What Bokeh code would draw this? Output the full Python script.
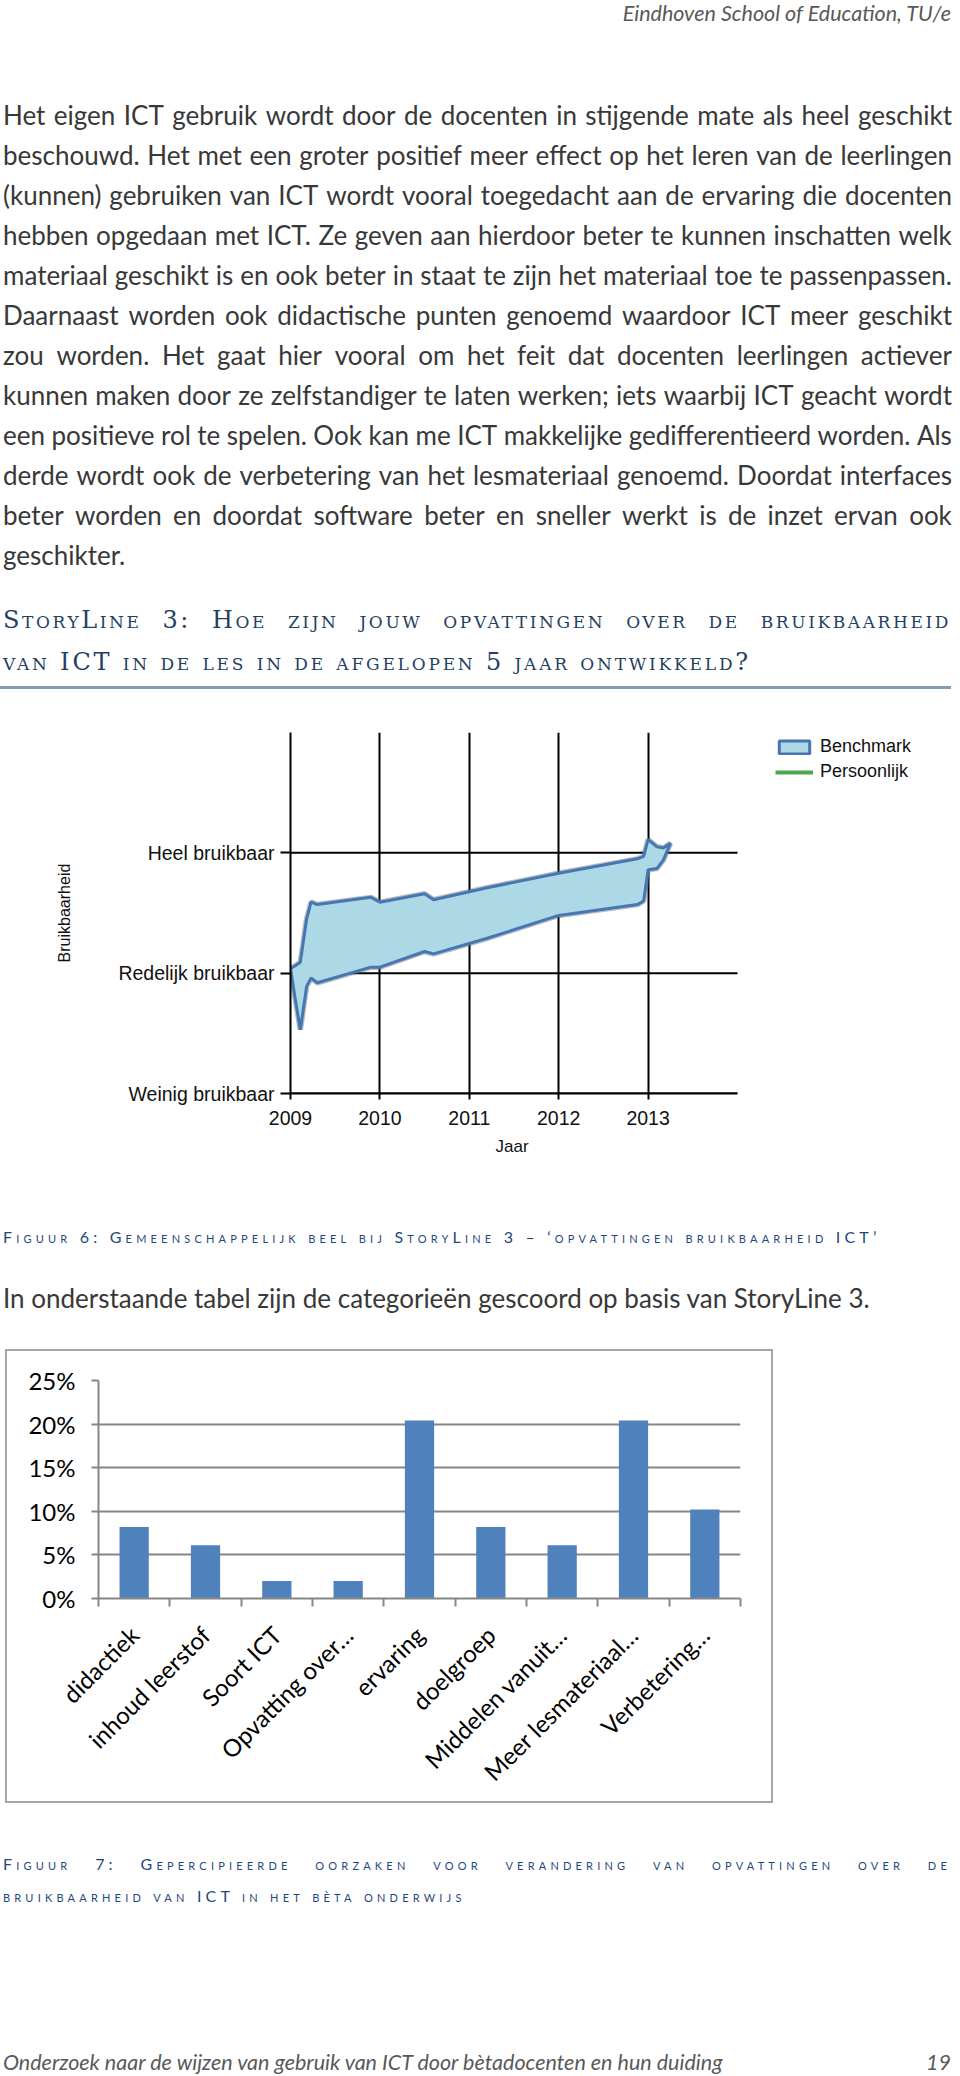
from math import pi
from bokeh.plotting import figure
from bokeh.models import Div, FixedTicker, Legend, LegendItem, Title
from bokeh.embed import file_html
from bokeh.resources import INLINE

# ---------------- data: StoryLine 3 (Benchmark band) ----------------
jaar = [2009.00, 2009.05, 2009.11, 2009.18, 2009.23, 2009.30, 2009.90, 2010.00,
        2010.50, 2010.60, 2011.20, 2012.00, 2012.88, 2012.95, 2013.00, 2013.10,
        2013.17, 2013.25]
boven = [2.04, 2.06, 2.09, 2.45, 2.59, 2.57, 2.63, 2.59,
         2.66, 2.61, 2.71, 2.83, 2.95, 2.97, 3.11, 3.05,
         3.04, 3.08]
onder = [2.04, 1.80, 1.53, 1.89, 1.96, 1.92, 2.05, 2.05,
         2.18, 2.16, 2.29, 2.48, 2.57, 2.60, 2.86, 2.87,
         2.94, 3.08]
# the personal line is not visible in the picture: no values
persoonlijk_jaar = [2009]
persoonlijk_waarde = [float("nan")]
jaren = [2009, 2010, 2011, 2012, 2013]
as_jaren = (2009, 2014)
niveaus = [1, 2, 3]
niveau_labels = ["Weinig bruikbaar", "Redelijk bruikbaar", "Heel bruikbaar"]

# ---------------- data: Figuur 7 (bar chart) ----------------
categorieen = ["didactiek", "inhoud leerstof", "Soort ICT", "Opvatting over…",
               "ervaring", "doelgroep", "Middelen vanuit…", "Meer lesmateriaal…",
               "Verbetering…"]
percentages = [8.2, 6.1, 2.0, 2.0, 20.4, 8.2, 6.1, 20.4, 10.2]
pct_ticks = [0, 5, 10, 15, 20, 25]
pct_labels = ["0%", "5%", "10%", "15%", "20%", "25%"]

# ---------------- texts ----------------
paragraaf = [
    "Het eigen ICT gebruik wordt door de docenten in stijgende mate als heel geschikt",
    "beschouwd. Het met een groter positief meer effect op het leren van de leerlingen",
    "(kunnen) gebruiken van ICT wordt vooral toegedacht aan de ervaring die docenten",
    "hebben opgedaan met ICT. Ze geven aan hierdoor beter te kunnen inschatten welk",
    "materiaal geschikt is en ook beter in staat te zijn het materiaal toe te passenpassen.",
    "Daarnaast worden ook didactische punten genoemd waardoor ICT meer geschikt",
    "zou worden. Het gaat hier vooral om het feit dat docenten leerlingen actiever",
    "kunnen maken door ze zelfstandiger te laten werken; iets waarbij ICT geacht wordt",
    "een positieve rol te spelen. Ook kan me ICT makkelijke gedifferentieerd worden. Als",
    "derde wordt ook de verbetering van het lesmateriaal genoemd. Doordat interfaces",
    "beter worden en doordat software beter en sneller werkt is de inzet ervan ook",
    "geschikter.",
]
kop = ["StoryLine 3: Hoe zijn jouw opvattingen over de bruikbaarheid",
       "van ICT in de les in de afgelopen 5 jaar ontwikkeld?"]
bijschrift6 = "Figuur 6: Gemeenschappelijk beel bij StoryLine 3 – ‘opvattingen bruikbaarheid ICT’"
zin = "In onderstaande tabel zijn de categorieën gescoord op basis van StoryLine 3."
bijschrift7 = ["Figuur 7: Gepercipieerde oorzaken voor verandering van opvattingen over de",
               "bruikbaarheid van ICT in het bèta onderwijs"]
voettekst = "Onderzoek naar de wijzen van gebruik van ICT door bètadocenten en hun duiding"
paginanummer = "19"
koptekst = "Eindhoven School of Education, TU/e"

BODY = "font-family:Lato;font-size:26px;color:#383838;"
CAPT = "font-family:Lato;font-variant:small-caps;font-size:16px;letter-spacing:4.2px;color:#1F497D;"
HEAD = "font-family:'DejaVu Serif';font-variant:small-caps;font-size:24px;color:#243F60;"


def jline(text, style):
    spans = "".join("<span>%s</span>" % w for w in text.split(" "))
    return ('<div style="display:flex;justify-content:space-between;'
            'white-space:nowrap;%s">%s</div>' % (style, spans))


def pline(text, style):
    return '<div style="white-space:nowrap;%s">%s</div>' % (style, text)


W = 960

# ---------------- header ----------------
header = Div(text=('<div style="text-align:right;font-family:Lato;font-style:italic;'
                   'font-size:21.5px;color:#595959;line-height:26px;width:951px">%s</div>' % koptekst),
             width=W, height=40, margin=0)

# ---------------- paragraph ----------------
lines = []
for i, t in enumerate(paragraaf):
    st = "height:40px;line-height:40px;"
    lines.append(jline(t, st) if i < len(paragraaf) - 1 else pline(t, st))
para = Div(text=('<div style="padding-top:55px;margin-left:3px;width:949px;%s">%s</div>'
                 % (BODY, "".join(lines))),
           width=W, height=555, margin=0)

# ---------------- heading ----------------
head_html = ('<div style="padding-top:4px;width:951px;%s">' % HEAD
             + jline(kop[0], "margin-left:3px;height:42px;line-height:42px;letter-spacing:2.6px;")
             + pline(kop[1], "margin-left:3px;height:42px;line-height:42px;letter-spacing:2.8px;")
             + '<div style="margin-top:3px;border-bottom:3px solid #7F9DB5;width:951px"></div></div>')
heading = Div(text=head_html, width=W, height=125, margin=0)

# ---------------- StoryLine chart ----------------
# frame spans 290..952 px; 5 years occupy 447 px, the rest holds the legend
px_per_jaar = 447 / 5
x_eind = as_jaren[0] + (952 - 290) / px_per_jaar
p1 = figure(width=W, height=450, x_range=(as_jaren[0], x_eind), y_range=(1, 4),
            output_backend="svg", toolbar_location=None, margin=0,
            min_border_left=290, min_border_right=8, min_border_top=12,
            min_border_bottom=77)
p1.outline_line_color = None
p1.segment(x0=[as_jaren[0]] * len(niveaus), x1=[as_jaren[1]] * len(niveaus),
           y0=niveaus, y1=niveaus, line_color="black", line_width=2)
band_x = jaar + jaar[::-1]
band_y = boven + onder[::-1]
p1.patch(x=band_x, y=band_y, fill_color=None, line_color="#5d6b78",
         line_alpha=0.45, line_width=5.5)
band = p1.patch(x=band_x, y=band_y, fill_color="#ADD8E6", line_color="#4677B3", line_width=3)
pers = p1.line(x=persoonlijk_jaar, y=persoonlijk_waarde, line_color="#4EA84E", line_width=4)

p1.xaxis.ticker = FixedTicker(ticks=jaren)
p1.xaxis.bounds = as_jaren
p1.yaxis.ticker = FixedTicker(ticks=niveaus)
p1.yaxis.major_label_overrides = dict(zip(niveaus, niveau_labels))
p1.yaxis.axis_label = "Bruikbaarheid"
for ax in (p1.xaxis[0], p1.yaxis[0]):
    ax.axis_line_color = "black"
    ax.axis_line_width = 2
    ax.major_tick_line_color = "black"
    ax.major_tick_line_width = 2
    ax.major_tick_in = 0
    ax.minor_tick_line_color = None
    ax.major_label_text_font = "Liberation Sans"
    ax.major_label_text_font_size = "19.5px"
    ax.major_label_text_color = "#111111"
    ax.axis_label_text_font = "Liberation Sans"
    ax.axis_label_text_font_style = "normal"
    ax.axis_label_text_color = "#111111"
p1.xaxis.major_tick_out = 6
p1.xaxis.major_label_standoff = 11
p1.yaxis.major_tick_out = 10
p1.yaxis.major_label_standoff = 6
p1.yaxis.axis_label_text_font_size = "16px"
p1.yaxis.axis_label_standoff = 42
p1.xgrid.grid_line_color = "black"
p1.xgrid.grid_line_width = 2
p1.xgrid.grid_line_alpha = 1
p1.ygrid.grid_line_color = None

p1.add_layout(Title(text="Jaar", align="left", offset=205, standoff=14,
                    text_font="Liberation Sans", text_font_size="17px",
                    text_font_style="normal", text_color="#111111"), "below")

legend = Legend(items=[LegendItem(label="Benchmark", renderers=[band]),
                       LegendItem(label="Persoonlijk", renderers=[pers])],
                location=(485, 311), border_line_color=None, background_fill_alpha=0,
                padding=0, margin=0, spacing=4, glyph_width=38, glyph_height=16,
                label_height=20, label_standoff=7, label_text_font="Liberation Sans",
                label_text_font_size="18px", label_text_color="#111111")
p1.add_layout(legend)

# ---------------- caption 6 + sentence ----------------
mid = Div(text=('<div style="padding-top:52px;margin-left:3px;width:950px">'
                + pline(bijschrift6, "height:30px;line-height:30px;" + CAPT)
                + pline(zin, "margin-top:26px;height:40px;line-height:40px;" + BODY)
                + '</div>'),
          width=W, height=180, margin=0)

# ---------------- bar chart ----------------
posities = list(range(len(categorieen)))
grenzen = [i - 0.5 for i in range(len(categorieen) + 1)]
p2 = figure(width=764, height=450, x_range=(-0.5, len(categorieen) - 0.5), y_range=(0, 25),
            output_backend="svg", toolbar_location=None, margin=(1, 0, 1, 7),
            min_border_left=91, min_border_right=31, min_border_top=29,
            min_border_bottom=203, styles={"outline": "2px solid #A6A6A6"})
p2.outline_line_color = None
p2.vbar(x=posities, top=percentages, width=0.41, fill_color="#4F81BD", line_color=None)
p2.xaxis.ticker = FixedTicker(ticks=posities, minor_ticks=grenzen)
p2.xaxis.major_label_overrides = dict(zip(posities, categorieen))
p2.xaxis.major_label_orientation = pi / 4
p2.xaxis.major_tick_out = 0
p2.xaxis.major_tick_in = 0
p2.xaxis.minor_tick_out = 8
p2.xaxis.minor_tick_in = 0
p2.xaxis.minor_tick_line_color = "#868686"
p2.xaxis.minor_tick_line_width = 2
p2.xaxis.major_label_standoff = 24
p2.yaxis.ticker = FixedTicker(ticks=pct_ticks)
p2.yaxis.major_label_overrides = dict(zip(pct_ticks, pct_labels))
p2.yaxis.major_tick_out = 7
p2.yaxis.major_tick_in = 0
p2.yaxis.minor_tick_line_color = None
p2.yaxis.major_tick_line_color = "#868686"
p2.yaxis.major_tick_line_width = 2
p2.yaxis.major_label_standoff = 16
for ax in (p2.xaxis[0], p2.yaxis[0]):
    ax.axis_line_color = "#868686"
    ax.axis_line_width = 2
    ax.major_label_text_font = "Lato"
    ax.major_label_text_font_size = "24px"
    ax.major_label_text_color = "#000000"
p2.xgrid.grid_line_color = None
p2.ygrid.grid_line_color = "#868686"
p2.ygrid.grid_line_width = 2
p2.ygrid.grid_line_alpha = 1

# ---------------- caption 7 + footer ----------------
bottom = Div(text=('<div style="padding-top:46px;margin-left:3px;width:948px">'
                   + jline(bijschrift7[0], "height:32px;line-height:32px;" + CAPT)
                   + pline(bijschrift7[1], "height:32px;line-height:32px;" + CAPT)
                   + '<div style="margin-top:138px;height:24px;line-height:24px;display:flex;'
                     'justify-content:space-between;font-family:Lato;font-style:italic;'
                     'font-size:21.5px;color:#595959"><span>%s</span><span>%s</span></div>'
                     % (voettekst, paginanummer)
                   + '</div>'),
             width=W, height=274, margin=0)

roots = [header, para, heading, p1, mid, p2, bottom]
open("out.html", "w").write(file_html(roots, INLINE, title="StoryLine 3"))
